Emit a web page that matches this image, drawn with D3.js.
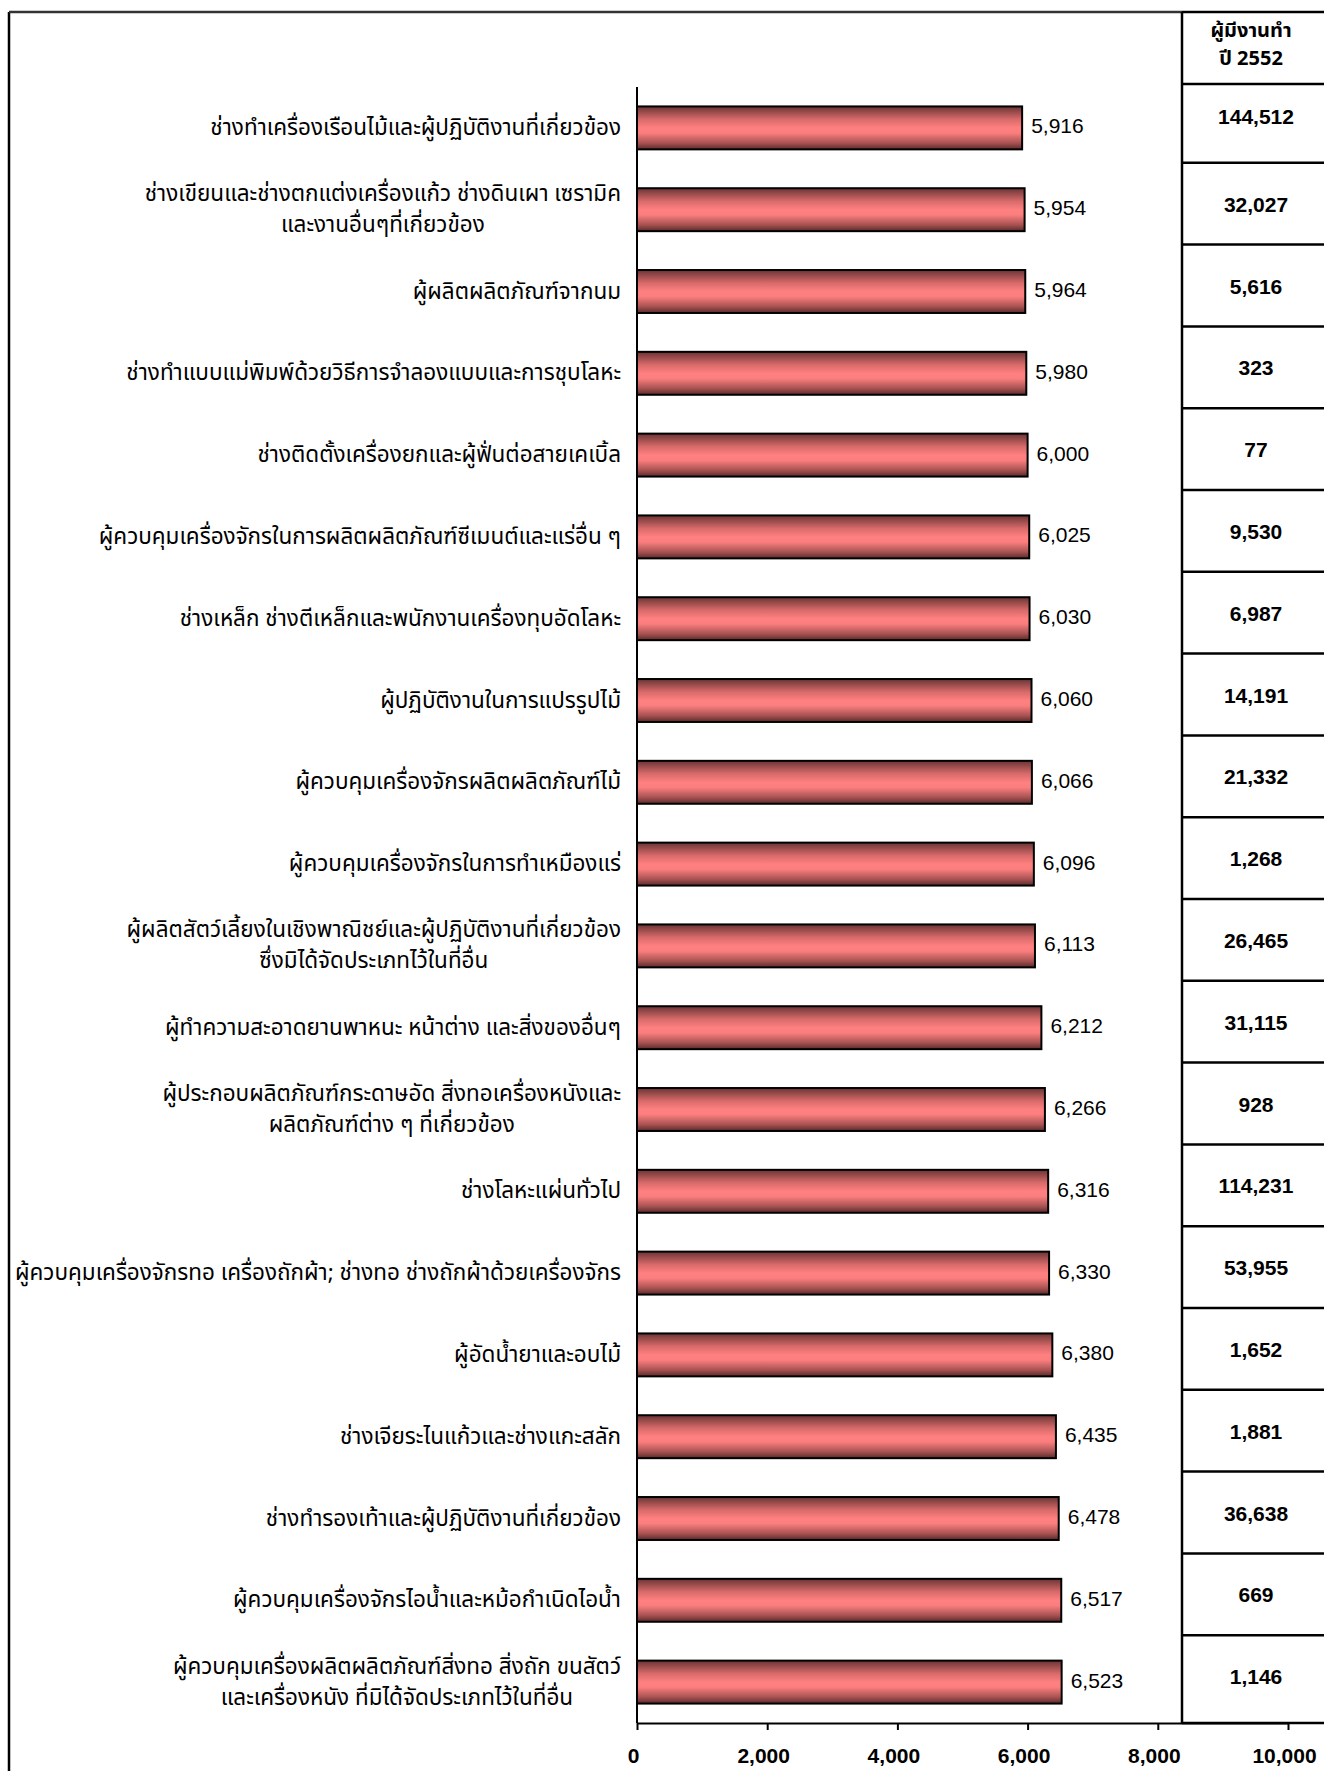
<!DOCTYPE html>
<html>
<head>
<meta charset="utf-8">
<script src="https://cdn.jsdelivr.net/npm/d3@7"></script>
<style>
  body { margin: 0; background: #fff; }
  svg { display: block; }
</style>
</head>
<body>
<svg></svg>
<script>
// occupations (each entry = lines of the label)
const categories = [
  ["ช่างทำเครื่องเรือนไม้และผู้ปฏิบัติงานที่เกี่ยวข้อง"],
  ["ช่างเขียนและช่างตกแต่งเครื่องแก้ว ช่างดินเผา เซรามิค", "และงานอื่นๆที่เกี่ยวข้อง"],
  ["ผู้ผลิตผลิตภัณฑ์จากนม"],
  ["ช่างทำแบบแม่พิมพ์ด้วยวิธีการจำลองแบบและการชุบโลหะ"],
  ["ช่างติดตั้งเครื่องยกและผู้ฟั่นต่อสายเคเบิ้ล"],
  ["ผู้ควบคุมเครื่องจักรในการผลิตผลิตภัณฑ์ซีเมนต์และแร่อื่น ๆ "],
  ["ช่างเหล็ก ช่างตีเหล็กและพนักงานเครื่องทุบอัดโลหะ"],
  ["ผู้ปฏิบัติงานในการแปรรูปไม้"],
  ["ผู้ควบคุมเครื่องจักรผลิตผลิตภัณฑ์ไม้"],
  ["ผู้ควบคุมเครื่องจักรในการทำเหมืองแร่"],
  ["ผู้ผลิตสัตว์เลี้ยงในเชิงพาณิชย์และผู้ปฏิบัติงานที่เกี่ยวข้อง", "ซึ่งมิได้จัดประเภทไว้ในที่อื่น"],
  ["ผู้ทำความสะอาดยานพาหนะ หน้าต่าง และสิ่งของอื่นๆ"],
  ["ผู้ประกอบผลิตภัณฑ์กระดาษอัด สิ่งทอเครื่องหนังและ", "ผลิตภัณฑ์ต่าง ๆ ที่เกี่ยวข้อง"],
  ["ช่างโลหะแผ่นทั่วไป"],
  ["ผู้ควบคุมเครื่องจักรทอ เครื่องถักผ้า; ช่างทอ ช่างถักผ้าด้วยเครื่องจักร"],
  ["ผู้อัดน้ำยาและอบไม้"],
  ["ช่างเจียระไนแก้วและช่างแกะสลัก"],
  ["ช่างทำรองเท้าและผู้ปฏิบัติงานที่เกี่ยวข้อง"],
  ["ผู้ควบคุมเครื่องจักรไอน้ำและหม้อกำเนิดไอน้ำ"],
  ["ผู้ควบคุมเครื่องผลิตผลิตภัณฑ์สิ่งทอ สิ่งถัก ขนสัตว์", "และเครื่องหนัง ที่มิได้จัดประเภทไว้ในที่อื่น"]
];

// bar values
const wages = [5916, 5954, 5964, 5980, 6000, 6025, 6030, 6060, 6066, 6096,
               6113, 6212, 6266, 6316, 6330, 6380, 6435, 6478, 6517, 6523];

// right-hand table
const employed = [144512, 32027, 5616, 323, 77, 9530, 6987, 14191, 21332, 1268,
                  26465, 31115, 928, 114231, 53955, 1652, 1881, 36638, 669, 1146];
const tableHeader = ["ผู้มีงานทำ", "ปี 2552"];

const xTicks = [0, 2000, 4000, 6000, 8000, 10000];

const W = 1324, H = 1771;
const thaiFont = "Tahoma, 'Noto Sans Thai', 'Noto Sans', 'DejaVu Sans', sans-serif";
const numFont = "'Liberation Sans', Arial, sans-serif";

const svg = d3.select("svg").attr("width", W).attr("height", H);

const x = d3.scaleLinear().domain([0, 10000]).range([637, 1288]);
const y = d3.scaleBand()
  .domain(d3.range(categories.length))
  .range([87, 1723])
  .paddingInner(0.475)
  .paddingOuter(0.2375);
const mid = (i) => y(i) + y.bandwidth() / 2;
const fmt = d3.format(",");

// bar gradient (cylinder look)
const grad = svg.append("defs").append("linearGradient")
  .attr("id", "barGrad")
  .attr("x1", 0).attr("y1", 0).attr("x2", 0).attr("y2", 1);
[
  [0, "#6a3434"], [0.3, "#d86a6a"], [0.5, "#ff8080"], [0.62, "#fb7e7e"],
  [0.85, "#a85252"], [1, "#5a2a2a"]
].forEach(([o, c]) => grad.append("stop").attr("offset", o).attr("stop-color", c));

// outer frame
svg.append("line")
  .attr("x1", 9).attr("x2", 9).attr("y1", 12).attr("y2", H)
  .attr("stroke", "#000").attr("stroke-width", 2.5);
svg.append("line")
  .attr("x1", 9).attr("x2", 1182).attr("y1", 12).attr("y2", 12)
  .attr("stroke", "#333").attr("stroke-width", 2.5);

// bars
svg.selectAll(".bar")
  .data(wages)
  .enter()
  .append("rect")
  .attr("class", "bar")
  .attr("x", x(0))
  .attr("y", (d, i) => y(i))
  .attr("width", (d) => x(d) - x(0))
  .attr("height", y.bandwidth())
  .attr("fill", "url(#barGrad)")
  .attr("stroke", "#000")
  .attr("stroke-width", 2);

// value labels
svg.selectAll(".val")
  .data(wages)
  .enter()
  .append("text")
  .attr("class", "val")
  .attr("x", (d) => x(d) + 9)
  .attr("y", (d, i) => mid(i) + 5.5)
  .attr("font-family", numFont)
  .attr("font-size", "21px")
  .attr("fill", "#000")
  .text((d) => fmt(d));

// category labels
const lab = svg.selectAll(".cat")
  .data(categories)
  .enter()
  .append("text")
  .attr("class", "cat")
  .attr("text-anchor", "middle")
  .attr("font-family", thaiFont)
  .attr("font-size", "22.5px")
  .attr("fill", "#000");

lab.each(function (lines, i) {
  const t = d3.select(this);
  const lh = 31;
  const y0 = mid(i) + 7 - (lines.length - 1) * lh / 2;
  lines.forEach((ln, k) => {
    t.append("tspan").attr("y", y0 + k * lh).attr("x", 0).text(ln);
  });
});
// right-align block, centre lines inside it (Excel style)
lab.each(function () {
  const t = d3.select(this);
  let w = 0;
  t.selectAll("tspan").each(function () { w = Math.max(w, this.getComputedTextLength()); });
  t.selectAll("tspan").attr("x", 621 - w / 2);
});

// x axis
const xAxis = svg.append("g")
  .attr("transform", `translate(0, 1723)`)
  .call(d3.axisBottom(x).tickValues(xTicks).tickFormat(fmt).tickSize(7).tickSizeOuter(0));
xAxis.select(".domain").attr("stroke", "#000").attr("stroke-width", 2);
xAxis.selectAll(".tick line").attr("stroke", "#000").attr("stroke-width", 2);
xAxis.selectAll(".tick text")
  .attr("font-family", numFont)
  .attr("font-size", "21px")
  .attr("font-weight", "bold")
  .attr("fill", "#000")
  .attr("dy", null)
  .attr("x", -4)
  .attr("y", 40);

// y axis line
svg.append("line")
  .attr("x1", x(0)).attr("x2", x(0))
  .attr("y1", 87).attr("y2", 1723)
  .attr("stroke", "#000").attr("stroke-width", 2);

// table
const tbl = svg.append("g").attr("stroke", "#000").attr("stroke-width", 2.5);
tbl.append("line").attr("x1", 1182).attr("x2", 1182).attr("y1", 12).attr("y2", 1723);
tbl.append("line").attr("x1", 1182).attr("x2", W).attr("y1", 12).attr("y2", 12);
tbl.append("line").attr("x1", 1182).attr("x2", W).attr("y1", 84).attr("y2", 84);
tbl.append("line").attr("x1", 1182).attr("x2", W).attr("y1", 1723).attr("y2", 1723);
tbl.selectAll(".row")
  .data(d3.range(1, categories.length))
  .enter()
  .append("line")
  .attr("x1", 1182).attr("x2", W)
  .attr("y1", (i) => y(i) - y.step() * y.paddingInner() / 2 - 6)
  .attr("y2", (i) => y(i) - y.step() * y.paddingInner() / 2 - 6);

svg.selectAll(".hdr")
  .data(tableHeader)
  .enter()
  .append("text")
  .attr("x", 1251)
  .attr("y", (d, i) => 37 + i * 28)
  .attr("text-anchor", "middle")
  .attr("font-family", thaiFont)
  .attr("font-size", "20px")
  .attr("font-weight", "bold")
  .text((d) => d);

svg.selectAll(".emp")
  .data(employed)
  .enter()
  .append("text")
  .attr("x", 1256)
  .attr("y", (d, i) => mid(i) + (i === 0 ? -4 : 2))
  .attr("text-anchor", "middle")
  .attr("font-family", numFont)
  .attr("font-size", "21px")
  .attr("font-weight", "bold")
  .text((d) => fmt(d));
</script>
</body>
</html>
